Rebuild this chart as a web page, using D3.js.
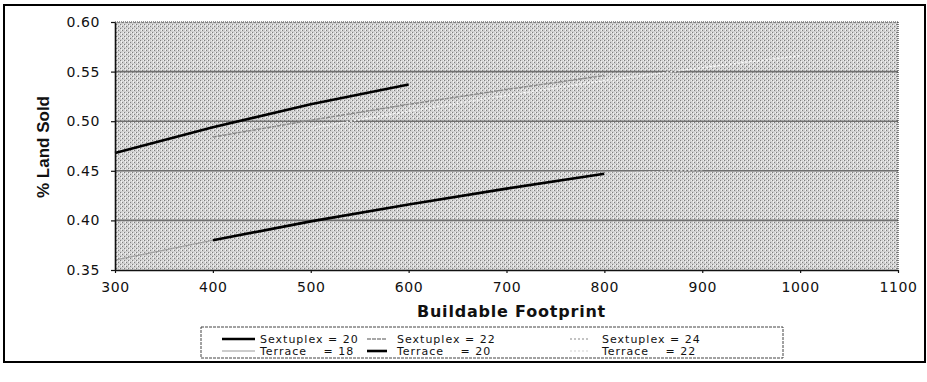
<!DOCTYPE html>
<html>
<head>
<meta charset="utf-8">
<script src="https://cdn.jsdelivr.net/npm/d3@7"></script>
<style>
  html, body { margin: 0; padding: 0; background: #fff; }
  svg { display: block; }
  text { fill: #111; }
</style>
</head>
<body>
<svg id="chart" width="927" height="382"></svg>
<script>
// Buildable footprint vs. share of land sold, by dwelling type and density
const xTicks = [300, 400, 500, 600, 700, 800, 900, 1000, 1100];
const yTicks = [0.35, 0.40, 0.45, 0.50, 0.55, 0.60];

const sextuplex20X = [300, 400, 500, 600];
const sextuplex20Y = [0.468, 0.494, 0.517, 0.537];

const sextuplex22X = [400, 500, 600, 700, 800];
const sextuplex22Y = [0.484, 0.501, 0.517, 0.532, 0.546];

const sextuplex24X = [500, 600, 700, 800, 900, 1000];
const sextuplex24Y = [0.493, 0.510, 0.526, 0.541, 0.554, 0.566];

const terrace18X = [300, 400];
const terrace18Y = [0.360, 0.380];

const terrace20X = [400, 500, 600, 700, 800];
const terrace20Y = [0.380, 0.399, 0.416, 0.432, 0.447];

const terrace22X = [800, 900];
const terrace22Y = [0.447, 0.451];

const seriesNames = ["Sextuplex = 20", "Sextuplex = 22", "Sextuplex = 24",
                     "Terrace", "Terrace", "Terrace"];
const seriesDensity = ["20", "22", "24", "18", "20", "22"];

const svg = d3.select("#chart");

// line styles per series
const styles = [
  { stroke: "#000", width: 2.6, dash: null },
  { stroke: "#8a8a8a", width: 1.4, dash: "4,1" },
  { stroke: "#f6f6f6", width: 1.5, dash: "2,2" },
  { stroke: "#9a9a9a", width: 1.1, dash: null },
  { stroke: "#000", width: 2.6, dash: null },
  { stroke: "#e0e0e0", width: 1.3, dash: "2,2" }
];

const series = [
  { x: sextuplex20X, y: sextuplex20Y },
  { x: sextuplex22X, y: sextuplex22Y },
  { x: sextuplex24X, y: sextuplex24Y },
  { x: terrace18X, y: terrace18Y },
  { x: terrace20X, y: terrace20Y },
  { x: terrace22X, y: terrace22Y }
].map((s, i) => ({ points: s.x.map((v, j) => [v, s.y[j]]), style: styles[i] }));

const plot = { left: 115, right: 898, top: 22, bottom: 270 };
const x = d3.scaleLinear().domain([300, 1100]).range([plot.left, plot.right]);
const y = d3.scaleLinear().domain([0.35, 0.60]).range([plot.bottom, plot.top]);

// textured plot background
const defs = svg.append("defs");
const pat = defs.append("pattern").attr("id", "tex")
  .attr("width", 4).attr("height", 4).attr("patternUnits", "userSpaceOnUse");
pat.append("rect").attr("width", 4).attr("height", 4).attr("fill", "#d0d0d0");
[[0, 0], [2, 2], [3, 0], [1, 2], [1, 1]].forEach(([a, b], i) =>
  pat.append("rect").attr("x", a).attr("y", b).attr("width", 1).attr("height", 1)
    .attr("fill", i < 2 ? "#3a3a3a" : "#ffffff").attr("opacity", i < 2 ? 0.55 : 0.7));

// outer frame
svg.append("rect").attr("x", 4).attr("y", 5).attr("width", 921).attr("height", 357)
  .attr("fill", "none").attr("stroke", "#000").attr("stroke-width", 2);

svg.append("rect")
  .attr("x", plot.left).attr("y", plot.top)
  .attr("width", plot.right - plot.left).attr("height", plot.bottom - plot.top)
  .attr("fill", "url(#tex)");

// horizontal gridlines
svg.append("g").selectAll("line").data(yTicks.slice(1, -1)).join("line")
  .attr("x1", plot.left).attr("x2", plot.right)
  .attr("y1", d => y(d)).attr("y2", d => y(d))
  .attr("stroke", "#707070").attr("stroke-width", 1.6);

// plot border: dotted top and right
svg.append("line").attr("x1", plot.left).attr("x2", plot.right)
  .attr("y1", plot.top).attr("y2", plot.top)
  .attr("stroke", "#333").attr("stroke-width", 1.2).attr("stroke-dasharray", "1,1");
svg.append("line").attr("x1", plot.right).attr("x2", plot.right)
  .attr("y1", plot.top).attr("y2", plot.bottom)
  .attr("stroke", "#333").attr("stroke-width", 1.2).attr("stroke-dasharray", "1,1");

// series lines
const line = d3.line().x(d => x(d[0])).y(d => y(d[1]));
svg.append("g").selectAll("path").data(series).join("path")
  .attr("d", d => line(d.points))
  .attr("fill", "none")
  .attr("stroke", d => d.style.stroke)
  .attr("stroke-width", d => d.style.width)
  .attr("stroke-dasharray", d => d.style.dash);

// axes
const fontTick = "'DejaVu Sans', sans-serif";
const xAxis = svg.append("g").attr("transform", `translate(0,${plot.bottom})`)
  .call(d3.axisBottom(x).tickValues(xTicks).tickSize(3).tickSizeOuter(0).tickPadding(9)
    .tickFormat(d3.format("d")));
const yAxis = svg.append("g").attr("transform", `translate(${plot.left},0)`)
  .call(d3.axisLeft(y).tickValues(yTicks).tickSize(4).tickSizeOuter(0).tickPadding(11)
    .tickFormat(d3.format(".2f")));
[xAxis, yAxis].forEach(g => {
  g.select(".domain").attr("stroke", "#111").attr("stroke-width", 1.6);
  g.selectAll(".tick line").attr("stroke", "#111").attr("stroke-width", 1.2);
  g.selectAll(".tick text").attr("fill", "#111")
    .style("font-family", fontTick).style("font-size", "14px").style("letter-spacing", "0.6px");
});

// axis titles
svg.append("text")
  .attr("x", (plot.left + plot.right) / 2 + 5).attr("y", 317)
  .attr("text-anchor", "middle")
  .style("font-family", fontTick).style("font-weight", "bold")
  .style("font-size", "16px").style("letter-spacing", "0.8px")
  .text("Buildable Footprint");

svg.append("text")
  .attr("transform", "translate(49,147) rotate(-90)")
  .attr("text-anchor", "middle")
  .style("font-family", "'Liberation Sans Narrow', 'Liberation Sans', sans-serif")
  .style("font-weight", "bold").style("font-size", "17px")
  .text("% Land Sold");

// legend
const legend = svg.append("g");
legend.append("rect").attr("x", 201).attr("y", 327).attr("width", 582).attr("height", 31)
  .attr("fill", "#fff").attr("stroke", "#444").attr("stroke-width", 1)
  .attr("stroke-dasharray", "3,1");

const colX = [{ s0: 222, s1: 255, t: 260 }, { s0: 367, s1: 387, t: 397 }, { s0: 570, s1: 590, t: 602 }];
const rowY = [339, 351];
const legendStyles = styles.map(s => ({ ...s, stroke: s.stroke === "#f6f6f6" ? "#b0b0b0" : s.stroke }));
const legendFont = { family: fontTick, size: "11px", spacing: "1px" };

seriesNames.forEach((name, i) => {
  const c = colX[i % 3], r = rowY[Math.floor(i / 3)];
  const st = legendStyles[i];
  legend.append("line").attr("x1", c.s0).attr("x2", c.s1).attr("y1", r).attr("y2", r)
    .attr("stroke", st.stroke).attr("stroke-width", st.width)
    .attr("stroke-dasharray", st.dash);
  const t = legend.append("text").attr("x", c.t).attr("y", r + 4)
    .style("font-family", legendFont.family).style("font-size", legendFont.size)
    .style("letter-spacing", legendFont.spacing).style("font-weight", 500);
  if (i < 3) {
    t.text(name);
  } else {
    t.append("tspan").text(name);
    // align "= n" with the sextuplex row above
    const ref = legend.append("text").style("font-family", legendFont.family)
      .style("font-size", legendFont.size).style("letter-spacing", legendFont.spacing)
      .text("Sextuplex ");
    const w = ref.node().getComputedTextLength();
    ref.remove();
    t.append("tspan").attr("x", c.t + w).text("= " + seriesDensity[i]);
  }
});
</script>
</body>
</html>
